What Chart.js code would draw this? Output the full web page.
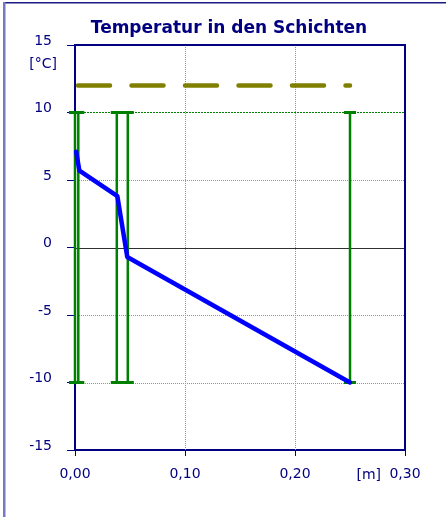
<!DOCTYPE html>
<html>
<head>
<meta charset="utf-8">
<title>Temperatur in den Schichten</title>
<script src="https://cdn.jsdelivr.net/npm/chart.js@4.4.1/dist/chart.umd.min.js"></script>
<style>
  html, body { margin: 0; padding: 0; background: #fff; }
  #wrap { position: relative; width: 446px; height: 517px; }
</style>
</head>
<body>
<div id="wrap">
  <canvas id="schichtChart" width="446" height="517"></canvas>
</div>
<script>
// Schichtgrenzen [m] und Bereich der Grenzlinien [°C]
const layerX = [0, 0.003, 0.038, 0.048, 0.25];
const layerTop = [10, 10, 10, 10, 10];
const layerBottom = [-10, -10, -10, -10, -10];

// Temperaturverlauf durch die Schichten
const profileX = [0.001, 0.004, 0.0385, 0.0475, 0.25];
const profileT = [7.1, 5.7, 3.8, -0.7, -10];

// Grenzwert (gestrichelt)
const limitX = [0, 0.25];
const limitT = [12, 12];

// Achsenteilung
const xTicks = [0, 0.1, 0.2, 0.3];
const yTicks = [-15, -10, -5, 0, 5, 10, 15];

const NAVY = '#000080';
const FONT = "'DejaVu Sans', Verdana, sans-serif";

function fmtComma(v) {
    return v.toFixed(2).replace('.', ',');
}

// Gitterlinien, Rahmen und Zusatztexte
const decorPlugin = {
    id: 'decor',
    beforeDatasetsDraw(chart) {
        const { ctx, chartArea: a, scales: { x, y } } = chart;
        ctx.save();
        ctx.lineWidth = 1;
        // senkrechte Gitterlinien
        xTicks.forEach(v => {
            if (v === 0 || v === 0.3) return;
            const px = Math.round(x.getPixelForValue(v)) + 0.5;
            ctx.strokeStyle = '#5cbc5c';
            ctx.setLineDash([1, 1]);
            ctx.beginPath();
            ctx.moveTo(px, a.top);
            ctx.lineTo(px, a.bottom);
            ctx.stroke();
        });
        // waagrechte Gitterlinien
        yTicks.forEach(v => {
            if (v === 15 || v === -15) return;
            const py = Math.round(y.getPixelForValue(v)) + 0.5;
            if (v === 0) {
                ctx.strokeStyle = '#303030';
                ctx.setLineDash([]);
            } else if (v === 10) {
                ctx.strokeStyle = '#008000';
                ctx.setLineDash([2, 1]);
            } else {
                ctx.strokeStyle = '#5cbc5c';
                ctx.setLineDash([1, 1]);
            }
            ctx.beginPath();
            ctx.moveTo(a.left, py);
            ctx.lineTo(a.right, py);
            ctx.stroke();
        });
        ctx.restore();
    },
    afterDraw(chart) {
        const { ctx, chartArea: a } = chart;
        ctx.save();
        // Rahmen oben und rechts
        ctx.strokeStyle = NAVY;
        ctx.lineWidth = 2;
        ctx.setLineDash([]);
        ctx.beginPath();
        ctx.moveTo(a.left, a.top);
        ctx.lineTo(a.right, a.top);
        ctx.lineTo(a.right, a.bottom);
        ctx.stroke();

        // Titel
        ctx.fillStyle = NAVY;
        ctx.font = 'bold 17px ' + FONT;
        ctx.textAlign = 'center';
        ctx.textBaseline = 'alphabetic';
        ctx.fillText('Temperatur in den Schichten', 229, 33);

        // Einheiten
        ctx.font = '14px ' + FONT;
        ctx.textAlign = 'right';
        ctx.textBaseline = 'middle';
        ctx.fillText('[°C]', 57, 64);
        ctx.fillText('[m]', 381, 475);

        // äußerer Rahmen
        ctx.fillStyle = '#1a1a80';
        ctx.fillRect(4, 2, 442, 1.5);
        ctx.fillStyle = '#7878c4';
        ctx.fillRect(3, 2, 2.5, 515);
        ctx.restore();
    }
};

const datasets = [
    {
        label: 'Temperatur',
        data: profileX.map((v, i) => ({ x: v, y: profileT[i] })),
        borderColor: '#0000ff',
        borderWidth: 4.5,
        pointRadius: 0,
        borderJoinStyle: 'round',
        borderCapStyle: 'round',
        clip: false
    },
    {
        label: 'Grenzwert',
        data: limitX.map((v, i) => ({ x: v, y: limitT[i] })),
        borderColor: '#808000',
        borderWidth: 4.5,
        borderDash: [32, 21.5],
        borderDashOffset: -3,
        borderCapStyle: 'round',
        pointRadius: 0,
        clip: false
    }
];

layerX.forEach((v, i) => {
    datasets.push({
        label: 'Schicht ' + (i + 1),
        data: [{ x: v, y: layerBottom[i] }, { x: v, y: layerTop[i] }],
        borderColor: '#008000',
        borderWidth: 2.5,
        pointStyle: 'line',
        pointRadius: 6,
        pointBorderWidth: 3,
        pointBorderColor: '#008000',
        pointBackgroundColor: '#008000',
        clip: false
    });
});

new Chart(document.getElementById('schichtChart'), {
    type: 'line',
    data: { datasets: datasets },
    options: {
        responsive: false,
        animation: false,
        layout: { padding: { left: 0, top: 45, right: 41, bottom: 0 } },
        plugins: {
            legend: { display: false },
            tooltip: { enabled: false },
            title: { display: false }
        },
        scales: {
            x: {
                type: 'linear',
                min: 0,
                max: 0.3,
                afterBuildTicks: scale => { scale.ticks = xTicks.map(v => ({ value: v })); },
                afterFit: scale => { scale.height = 67; },
                ticks: {
                    color: NAVY,
                    font: { family: FONT, size: 14 },
                    padding: 10,
                    maxRotation: 0,
                    autoSkip: false,
                    callback: v => v === 0.3 ? '0,30' : fmtComma(v)
                },
                grid: {
                    drawOnChartArea: false,
                    color: NAVY,
                    tickLength: 6,
                    tickWidth: 1
                },
                border: { color: NAVY, width: 2 }
            },
            y: {
                type: 'linear',
                min: -15,
                max: 15,
                afterBuildTicks: scale => { scale.ticks = yTicks.map(v => ({ value: v })); },
                afterFit: scale => { scale.width = 75; },
                ticks: {
                    color: NAVY,
                    font: { family: FONT, size: 14 },
                    padding: 15,
                    labelOffset: -4,
                    autoSkip: false,
                    callback: v => String(v)
                },
                grid: {
                    drawOnChartArea: false,
                    color: NAVY,
                    tickLength: 8,
                    tickWidth: 1
                },
                border: { color: NAVY, width: 2 }
            }
        }
    },
    plugins: [decorPlugin]
});
</script>
</body>
</html>
